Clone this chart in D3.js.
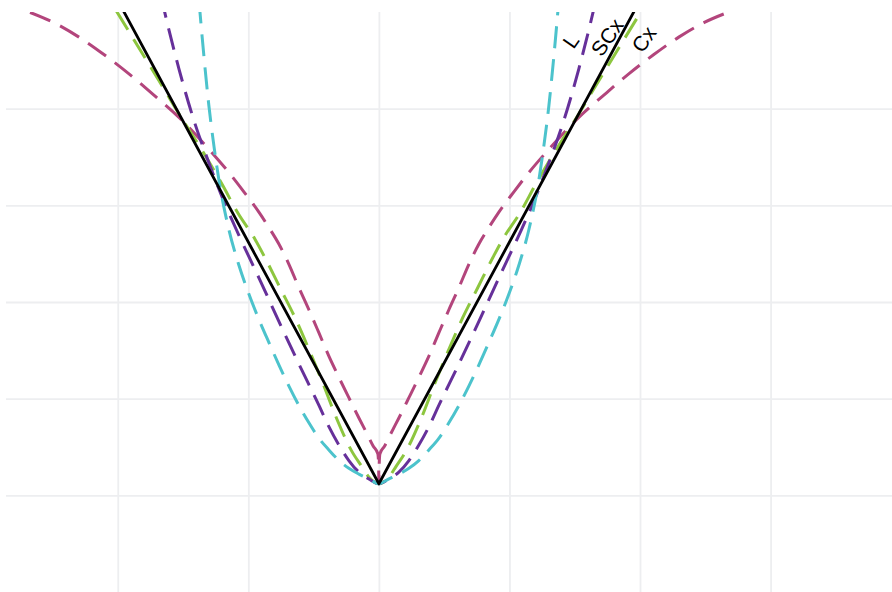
<!DOCTYPE html>
<html>
<head>
<meta charset="utf-8">
<script src="https://cdn.jsdelivr.net/npm/d3@7"></script>
<style>
  html, body { margin: 0; padding: 0; background: #ffffff; }
  svg { display: block; }
</style>
</head>
<body>
<svg id="chart" width="892" height="592"></svg>
<script>
// Grid positions
const xTicks = [-2, -1, 0, 1, 2, 3];
const yTicks = [0, 1, 2, 3, 4];

// Reference V: y = 0.12 + 2.5|x|
const vX = [-2.2, 0, 2.2];
const vY = [5.62, 0.12, 5.62];

// Steepest curve (cyan)
const cyanX = [-1.417,-1.378,-1.340,-1.302,-1.263,-1.225,-1.149,-1.072,-0.995,-0.919,-0.842,-0.766,-0.689,-0.613,-0.536,-0.459,-0.383,-0.306,-0.230,-0.153,-0.077,0,
               0.077,0.153,0.230,0.306,0.383,0.459,0.536,0.613,0.689,0.766,0.842,0.919,0.995,1.072,1.149,1.225,1.263,1.302,1.340,1.378,1.417];
const cyanY = [5.79,5.12,4.54,4.03,3.61,3.26,2.75,2.38,2.08,1.82,1.58,1.35,1.13,0.93,0.75,0.59,0.47,0.36,0.28,0.22,0.17,0.12,
               0.17,0.22,0.28,0.36,0.47,0.59,0.75,0.93,1.13,1.35,1.58,1.82,2.08,2.38,2.75,3.26,3.61,4.03,4.54,5.12,5.79];

// Purple curve
const purpleX = [-1.723,-1.646,-1.531,-1.417,-1.302,-1.187,-1.072,-0.919,-0.766,-0.613,-0.459,-0.383,-0.306,-0.230,-0.153,-0.077,0,
                 0.077,0.153,0.230,0.306,0.383,0.459,0.613,0.766,0.919,1.072,1.187,1.302,1.417,1.531,1.646,1.723];
const purpleY = [5.50,5.03,4.41,3.88,3.44,3.04,2.69,2.25,1.80,1.36,0.93,0.71,0.52,0.36,0.24,0.17,0.12,
                 0.17,0.24,0.36,0.52,0.71,0.93,1.36,1.80,2.25,2.69,3.04,3.44,3.88,4.41,5.03,5.50];

// Green curve
const greenX = [-2.144,-2.006,-1.807,-1.662,-1.524,-1.355,-1.202,-1.080,-0.949,-0.873,-0.758,-0.643,-0.536,-0.429,-0.322,-0.209,-0.132,-0.077,0,
                0.077,0.132,0.209,0.322,0.429,0.536,0.643,0.758,0.873,0.949,1.080,1.202,1.355,1.524,1.662,1.807,2.006,2.144];
const greenY = [5.30,5.00,4.56,4.24,3.93,3.57,3.22,2.92,2.65,2.46,2.15,1.84,1.51,1.16,0.79,0.46,0.30,0.19,0.12,
                0.19,0.30,0.46,0.79,1.16,1.51,1.84,2.15,2.46,2.65,2.92,3.22,3.57,3.93,4.24,4.56,5.00,5.30];

// Magenta curve (cusp at zero)
const magentaX = [-2.910,-2.680,-2.489,-2.297,-2.106,-1.914,-1.723,-1.531,-1.302,-1.149,-1.034,-0.919,-0.842,-0.766,-0.689,-0.613,-0.536,-0.459,-0.383,-0.306,-0.230,-0.153,-0.092,-0.044,-0.008,-0.002,0,
                  0.002,0.008,0.044,0.092,0.153,0.230,0.306,0.383,0.459,0.536,0.613,0.689,0.766,0.842,0.919,1.034,1.149,1.302,1.531,1.723,1.914,2.106,2.297,2.489,2.680,2.910];
const magentaY = [5.11,5.00,4.89,4.74,4.56,4.36,4.14,3.91,3.58,3.34,3.14,2.93,2.77,2.60,2.39,2.15,1.92,1.68,1.44,1.22,1.01,0.80,0.64,0.51,0.43,0.31,0.12,
                  0.31,0.43,0.51,0.64,0.80,1.01,1.22,1.44,1.68,1.92,2.15,2.39,2.60,2.77,2.93,3.14,3.34,3.58,3.91,4.14,4.36,4.56,4.74,4.89,5.00,5.11];

// Direct labels
const labelText = ["L", "SCx", "Cx"];
const labelX = [1.470, 1.748, 2.029];
const labelY = [4.70, 4.74, 4.72];

const panel = { left: 6, right: 892, top: 12, bottom: 592 };

const x = d3.scaleLinear().domain([-2.856, 3.93]).range([panel.left, panel.right]);
const y = d3.scaleLinear().domain([-1, 5]).range([panel.bottom, panel.top]);

const svg = d3.select("#chart");

svg.append("defs").append("clipPath").attr("id", "panel-clip")
  .append("rect")
  .attr("x", panel.left).attr("y", panel.top)
  .attr("width", panel.right - panel.left).attr("height", panel.bottom - panel.top);

// Grid via axes with full-length ticks
const gridColor = "#edeef0";
const gx = svg.append("g")
  .attr("transform", `translate(0,${panel.bottom})`)
  .call(d3.axisBottom(x).tickValues(xTicks).tickSize(-(panel.bottom - panel.top)).tickFormat(""));
const gy = svg.append("g")
  .attr("transform", `translate(${panel.left},0)`)
  .call(d3.axisLeft(y).tickValues(yTicks).tickSize(-(panel.right - panel.left)).tickFormat(""));
[gx, gy].forEach(g => {
  g.select(".domain").remove();
  g.selectAll(".tick line").attr("stroke", gridColor).attr("stroke-width", 1.8);
});

const smooth = d3.line().x(d => x(d[0])).y(d => y(d[1])).curve(d3.curveMonotoneX);
const straight = d3.line().x(d => x(d[0])).y(d => y(d[1]));

const series = [
  { xs: magentaX, ys: magentaY, color: "#b3457c", dash: "22 11", gen: smooth },
  { xs: greenX,   ys: greenY,   color: "#8dc63f", dash: "22 11", gen: smooth },
  { xs: purpleX,  ys: purpleY,  color: "#66309a", dash: "22 11", gen: smooth },
  { xs: cyanX,    ys: cyanY,    color: "#4cc3cc", dash: "22 11", gen: smooth },
  { xs: vX,       ys: vY,       color: "#000000", dash: null,    gen: straight }
];

const plot = svg.append("g").attr("clip-path", "url(#panel-clip)");

series.forEach(s => {
  plot.append("path")
    .datum(d3.zip(s.xs, s.ys))
    .attr("d", s.gen)
    .attr("fill", "none")
    .attr("stroke", s.color)
    .attr("stroke-width", s.dash ? 3 : 2.8)
    .attr("stroke-dasharray", s.dash)
    .attr("stroke-linejoin", "round");
});

svg.append("g")
  .selectAll("text")
  .data(d3.zip(labelText, labelX, labelY))
  .join("text")
  .attr("transform", d => `translate(${x(d[1])},${y(d[2])}) rotate(-55)`)
  .attr("text-anchor", "middle")
  .attr("dominant-baseline", "central")
  .attr("font-family", "'Liberation Sans', Arial, sans-serif")
  .attr("font-size", 21)
  .attr("fill", "#000")
  .text(d => d[0]);
</script>
</body>
</html>
